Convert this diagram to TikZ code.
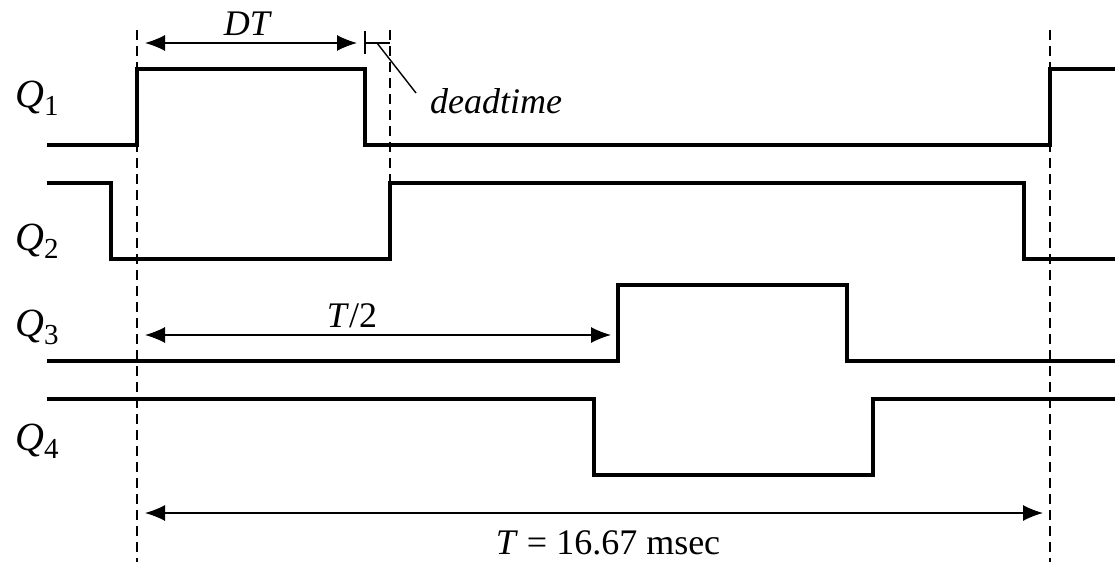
\documentclass[tikz,border=0pt]{standalone}
\usepackage{fontspec}
\setmainfont{Liberation Serif}
\usetikzlibrary{arrows.meta}

\tikzset{
	signal/.style={line width=3.3pt, line join=miter},
	guide/.style={line width=1.5pt, dash pattern=on 10pt off 6pt},
	dimline/.style={line width=1.4pt, {Latex[length=20pt,width=16pt]}-{Latex[length=20pt,width=16pt]}},
	thin/.style={line width=1.4pt},
	lbl/.style={font=\fontsize{36}{40}\selectfont, inner sep=0pt, anchor=base},
	qlbl/.style={font=\fontsize{40}{44}\selectfont, inner sep=0pt, anchor=base west},
}
\newcommand{\qname}[1]{\textit{Q}\raisebox{-8pt}{\fontsize{29}{32}\selectfont #1}}

\begin{document}
\begin{tikzpicture}[x=1pt,y=-1pt]
	\useasboundingbox (0,0) rectangle (1115,562);
	
	% guide lines
	\draw[guide] (137,30) -- (137,562);
	\draw[guide] (390,30) -- (390,183);
	\draw[guide] (1050,30) -- (1050,562);
	
	% gate signals
	\draw[signal] (47,145) -- (137,145) -- (137,69) -- (365,69) -- (365,145) -- (1050,145) -- (1050,69) -- (1115,69);
	\draw[signal] (47,183) -- (111,183) -- (111,259) -- (390,259) -- (390,183) -- (1024,183) -- (1024,259) -- (1115,259);
	\draw[signal] (47,361) -- (618,361) -- (618,285) -- (847,285) -- (847,361) -- (1115,361);
	\draw[signal] (47,399) -- (594,399) -- (594,475) -- (873,475) -- (873,399) -- (1115,399);
	
	\node[qlbl] (q1) at (15,107) {\qname{1}};
	\node[qlbl] (q2) at (15,250) {\qname{2}};
	\node[qlbl] (q3) at (15,336) {\qname{3}};
	\node[qlbl] (q4) at (15,450) {\qname{4}};
	
	% dimensions
	\coordinate (dtA) at (145,43);
	\coordinate (dtB) at (357,43);
	\coordinate (hfA) at (145,335);
	\coordinate (hfB) at (611,335);
	\coordinate (pdA) at (145,513);
	\coordinate (pdB) at (1043,513);
	\draw[dimline] (dtA) -- (dtB);
	\draw[dimline] (hfA) -- (hfB);
	\draw[dimline] (pdA) -- (pdB);
	
	\node[lbl] (dt) at (248,35) {\textit{DT}};
	\node[lbl] (half) at (352,327) {\textit{T}/2};
	\node[lbl] (period) at (608,554) {\textit{T} = 16.67 msec};
	
	% deadtime marker
	\coordinate (tkA) at (365,31);
	\coordinate (tkB) at (365,54);
	\coordinate (tkC) at (390,43);
	\coordinate (ldA) at (377,43);
	\draw[thin] (tkA) -- (tkB);
	\draw[thin] (365,43) -- (tkC);
	\node[lbl, anchor=base west] (dead) at (430,113) {\textit{deadtime}};
	\draw[thin] (ldA) -- (416,93);
	
\end{tikzpicture}
\end{document}
